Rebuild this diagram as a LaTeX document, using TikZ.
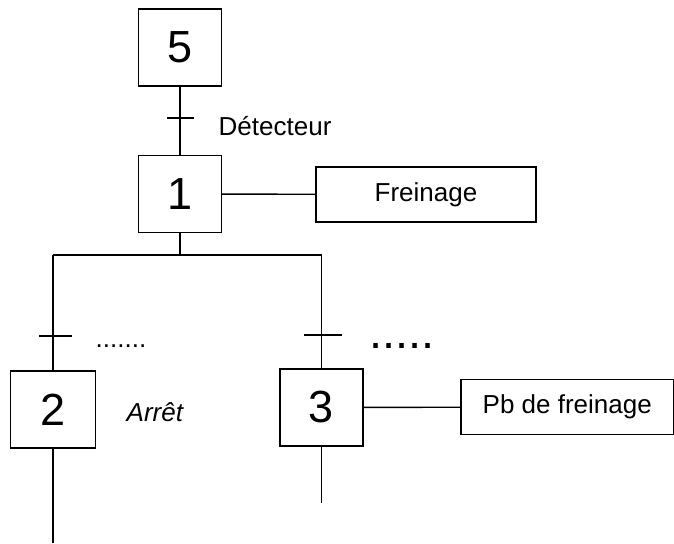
\documentclass[tikz,border=0pt]{standalone}
\usepackage{fontspec}
\setmainfont{Liberation Sans}

\begin{document}
\begin{tikzpicture}[x=1pt,y=-1pt,line width=1.4pt,
  step node/.style={rectangle,draw,minimum width=83pt,minimum height=77pt,inner sep=0pt,outer sep=0pt,font=\fontsize{45}{54}\selectfont},
  action node/.style={rectangle,draw,minimum height=55pt,inner sep=0pt,outer sep=0pt,font=\fontsize{26}{31}\selectfont},
  cond text/.style={anchor=base west,inner sep=0pt,font=\fontsize{26}{31}\selectfont}]
  \useasboundingbox (0,0) rectangle (674,543);

  \node[step node] (s5) at (180,47.5) {5};
  \node[step node] (s1) at (180,194) {1};
  \node[step node, minimum width=85pt] (s2) at (53,409.5) {2};
  \node[step node] (s3) at (321.5,407.5) {3};
  \node[action node, minimum width=220pt] (a1) at (426,194.5) {Freinage};
  \node[action node, minimum width=212.5pt] (a3) at (567.25,407) {Pb de freinage};

  \node[cond text] (c1) at (218,135) {Détecteur};
  \node[cond text, font=\fontsize{26}{31}\itshape] (c2) at (126,421.5) {Arrêt};
  \node[cond text] (d2) at (95,347.5) {.......};
  \node[cond text, font=\fontsize{47}{56}\selectfont] (d3) at (369,348) {.....};

  \coordinate (j) at (180,255);
  \coordinate (jl) at (53,255);
  \coordinate (jr) at (321.5,255);
  \coordinate (e2) at (53,543);
  \coordinate (e3) at (321.5,503);
  \coordinate (t1) at (180,118);
  \coordinate (t2) at (53,336);
  \coordinate (t3) at (321.5,335);

 \path[]
 (s5) edge (s1)
 (s1) edge (j)
 (jl) edge (jr)
 (jl) edge (s2)
 (jr) edge (s3)
 (s2) edge (e2)
 (s3) edge (e3)
 (s1) edge (a1)
 (s3) edge (a3);

  % receptivities
  \draw ([xshift=-13pt]t1) -- ([xshift=14pt]t1);
  \draw ([xshift=-14pt]t2) -- ([xshift=19pt]t2);
  \draw ([xshift=-18pt]t3) -- ([xshift=20pt]t3);

\end{tikzpicture}
\end{document}
